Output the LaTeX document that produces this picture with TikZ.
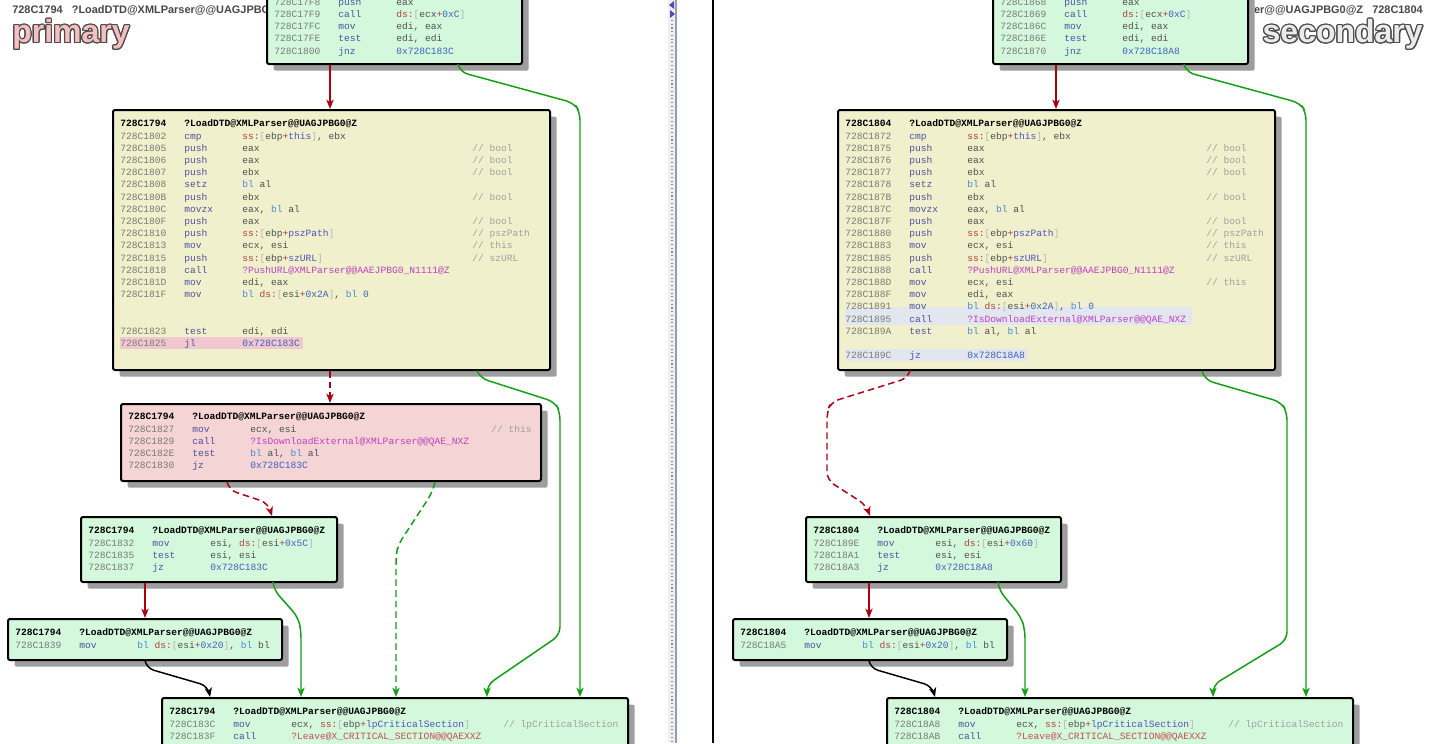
\documentclass[tikz,border=0pt]{standalone}
\usepackage{fontspec}
\usepackage{array}
\usepackage{contour}
\usetikzlibrary{arrows.meta,fit,shadows}
\setmainfont{Liberation Sans}
\newfontfamily\asm{Liberation Mono}
\definecolor{adr}{HTML}{7A7A7A}
\definecolor{mnc}{HTML}{5050A0}
\definecolor{opc}{HTML}{505050}
\definecolor{rgc}{HTML}{4A8AD8}
\definecolor{sgc}{HTML}{B04040}
\definecolor{brc}{HTML}{B8B8B8}
\definecolor{vrc}{HTML}{5050C0}
\definecolor{hxc}{HTML}{4060C0}
\definecolor{fnc}{HTML}{C040C0}
\definecolor{fnr}{HTML}{C05050}
\definecolor{cmc}{HTML}{A0A0A0}
\definecolor{grn}{HTML}{D4F8DC}
\definecolor{yel}{HTML}{F0F0CC}
\definecolor{pnk}{HTML}{F4D4D4}
\definecolor{hlp}{HTML}{F2C8D0}
\definecolor{hlb}{HTML}{E2E6EE}
\definecolor{egr}{HTML}{B00010}
\definecolor{egg}{HTML}{10A010}
% code tokens
\newcommand\rg[1]{\textcolor{rgc}{#1}}
\newcommand\vr[1]{\textcolor{vrc}{#1}}
\newcommand\hx[1]{\textcolor{hxc}{#1}}
\newcommand\fn[1]{\textcolor{fnc}{#1}}
\newcommand\fr[1]{\textcolor{fnr}{#1}}
\newcommand\mem[3]{\textcolor{sgc}{#1:}\textcolor{brc}{[}#2\textcolor{sgc}{+}#3\textcolor{brc}{]}}
\newcommand\hd[2]{\textcolor{black}{\bfseries #1} & \multicolumn{3}{@{}l@{}}{\bfseries #2}}
\newcommand\asmcode[2]{\begin{tabular}{@{}>{\color{adr}}w{l}{48pt}@{}>{\color{mnc}}w{l}{43.5pt}@{}>{\color{opc}}w{l}{#1}@{}>{\color{cmc}}l@{}}#2\end{tabular}}
\contourlength{0.9pt}
\tikzset{
  block/.style={draw=black, line width=1.5pt, rounded corners=1.5pt, inner sep=0pt,
    drop shadow={shadow xshift=5pt, shadow yshift=-5pt, fill=black!38, opacity=1}},
  code/.style={inner sep=0pt, font=\asm\fontsize{7.2}{9.15}\selectfont},
  title/.style={inner sep=0pt, text=black!72, font=\bfseries\fontsize{8.2}{9}\selectfont},
  big/.style={inner sep=0pt, font=\bfseries\fontsize{24}{26}\selectfont},
  ed/.style={line width=1.1pt, rounded corners=6pt, -{Stealth[length=7pt,width=5.5pt,inset=2pt]}},
  tk/.style={ed, egr},
  fl/.style={ed, egg},
  dsh/.style={dash pattern=on 5pt off 3pt}
}
\begin{document}
\begin{tikzpicture}[x=0.75pt, y=-0.75pt]
\useasboundingbox (0,0) rectangle (1435,743);
\fill[white] (0,0) rectangle (1435,743);
% separator
\fill[black!6] (668,0) rectangle (677,743);
\draw[black!45, dotted, line width=0.8pt] (672,20) -- (672,743);
\draw[blue!30!black!40, line width=0.8pt] (676,0) -- (676,743);
\fill[blue!60!black!70] (674,1) -- (669,5) -- (674,9) -- cycle;
\fill[blue!60!black!70] (670,10) -- (675,14) -- (670,18) -- cycle;
\draw[line width=1.6pt] (713,0) -- (713,743);
% titles
\node[title, anchor=west] (tl) at (12,10) {728C1794\ \ \ ?LoadDTD@XMLParser@@UAGJPBG0@Z};
\node[title, anchor=east] (tr) at (1423,10) {?LoadDTD@XMLParser@@UAGJPBG0@Z\ \ \ 728C1804};
\node[big, anchor=west] (np) at (12,35) {\contour{black!70}{\textcolor{pnk!90!red}{primary}}};
\node[big, anchor=east] (ns) at (1423,35) {\contour{black!70}{\textcolor{black!8}{secondary}}};

% primary blocks
\node[block, fill=grn, fit={(267,-20) (522,64)}] (p1) {};
\node[code, anchor=south west] at ([shift={(8,-7)}]p1.south west) {\asmcode{172.5pt}{%
728C17F8 & push & eax & \\
728C17F9 & call & \textcolor{sgc}{ds:}\textcolor{brc}{[}ecx\textcolor{sgc}{+}\hx{0xC}\textcolor{brc}{]} & \\
728C17FC & mov & edi, eax & \\
728C17FE & test & edi, edi & \\
728C1800 & jnz & \hx{0x728C183C} & }};
\node[block, fill=yel, fit={(113,110) (550,370)}] (p2) {};
\fill[hlp] (120,337) rectangle (303,349);
\node[code, anchor=north west] at ([shift={(8,9)}]p2.north west) {\asmcode{172.5pt}{%
\hd{728C1794}{?LoadDTD@XMLParser@@UAGJPBG0@Z}\\
728C1802 & cmp & \mem{ss}{ebp}{\vr{this}}, ebx & \\
728C1805 & push & eax & // bool\\
728C1806 & push & eax & // bool\\
728C1807 & push & ebx & // bool\\
728C1808 & setz & \rg{bl} al & \\
728C180B & push & ebx & // bool\\
728C180C & movzx & eax, \rg{bl} al & \\
728C180F & push & eax & // bool\\
728C1810 & push & \mem{ss}{ebp}{\vr{pszPath}} & // pszPath\\
728C1813 & mov & ecx, esi & // this\\
728C1815 & push & \mem{ss}{ebp}{\vr{szURL}} & // szURL\\
728C1818 & call & \fn{?PushURL@XMLParser@@AAEJPBG0\_N1111@Z} & \\
728C181D & mov & edi, eax & \\
728C181F & mov & \rg{bl} \mem{ds}{esi}{\hx{0x2A}}, \rg{bl} \hx{0} & \\
 & & & \\
 & & & \\
728C1823 & test & edi, edi & \\
728C1825 & jl & \hx{0x728C183C} & }};
\node[block, fill=pnk, fit={(121,404) (541,481)}] (p3) {};
\node[code, anchor=north west] at ([shift={(8,8)}]p3.north west) {\asmcode{180.75pt}{%
\hd{728C1794}{?LoadDTD@XMLParser@@UAGJPBG0@Z}\\
728C1827 & mov & ecx, esi & // this\\
728C1829 & call & \fn{?IsDownloadExternal@XMLParser@@QAE\_NXZ} & \\
728C182E & test & \rg{bl} al, \rg{bl} al & \\
728C1830 & jz & \hx{0x728C183C} & }};
\node[block, fill=grn, fit={(81,517) (337,582)}] (p4) {};
\node[code, anchor=north west] at ([shift={(8,9)}]p4.north west) {\asmcode{172.5pt}{%
\hd{728C1794}{?LoadDTD@XMLParser@@UAGJPBG0@Z}\\
728C1832 & mov & esi, \mem{ds}{esi}{\hx{0x5C}} & \\
728C1835 & test & esi, esi & \\
728C1837 & jz & \hx{0x728C183C} & }};
\node[block, fill=grn, fit={(8,619) (282,660)}] (p5) {};
\node[code, anchor=north west] at ([shift={(8,9)}]p5.north west) {\asmcode{172.5pt}{%
\hd{728C1794}{?LoadDTD@XMLParser@@UAGJPBG0@Z}\\
728C1839 & mov & \rg{bl} \mem{ds}{esi}{\hx{0x20}}, \rg{bl} bl & }};
\node[block, fill=grn, fit={(162,698) (628,780)}] (p6) {};
\node[code, anchor=north west] at ([shift={(8,9)}]p6.north west) {\asmcode{159pt}{%
\hd{728C1794}{?LoadDTD@XMLParser@@UAGJPBG0@Z}\\
728C183C & mov & ecx, \mem{ss}{ebp}{\vr{lpCriticalSection}} & // lpCriticalSection\\
728C183F & call & \fr{?Leave@X\_CRITICAL\_SECTION@@QAEXXZ} & }};

% secondary blocks
\node[block, fill=grn, fit={(993,-20) (1248,64)}] (s1) {};
\node[code, anchor=south west] at ([shift={(8,-7)}]s1.south west) {\asmcode{172.5pt}{%
728C1868 & push & eax & \\
728C1869 & call & \textcolor{sgc}{ds:}\textcolor{brc}{[}ecx\textcolor{sgc}{+}\hx{0xC}\textcolor{brc}{]} & \\
728C186C & mov & edi, eax & \\
728C186E & test & edi, edi & \\
728C1870 & jnz & \hx{0x728C18A8} & }};
\node[block, fill=yel, fit={(838,110) (1275,370)}] (s2) {};
\fill[hlb] (845,307) rectangle (1192,325);
\fill[hlb] (845,349) rectangle (1027,361);
\node[code, anchor=north west] at ([shift={(8,9)}]s2.north west) {\asmcode{179.25pt}{%
\hd{728C1804}{?LoadDTD@XMLParser@@UAGJPBG0@Z}\\
728C1872 & cmp & \mem{ss}{ebp}{\vr{this}}, ebx & \\
728C1875 & push & eax & // bool\\
728C1876 & push & eax & // bool\\
728C1877 & push & ebx & // bool\\
728C1878 & setz & \rg{bl} al & \\
728C187B & push & ebx & // bool\\
728C187C & movzx & eax, \rg{bl} al & \\
728C187F & push & eax & // bool\\
728C1880 & push & \mem{ss}{ebp}{\vr{pszPath}} & // pszPath\\
728C1883 & mov & ecx, esi & // this\\
728C1885 & push & \mem{ss}{ebp}{\vr{szURL}} & // szURL\\
728C1888 & call & \fn{?PushURL@XMLParser@@AAEJPBG0\_N1111@Z} & \\
728C188D & mov & ecx, esi & // this\\
728C188F & mov & edi, eax & \\
728C1891 & mov & \rg{bl} \mem{ds}{esi}{\hx{0x2A}}, \rg{bl} \hx{0} & \\
728C1895 & call & \fn{?IsDownloadExternal@XMLParser@@QAE\_NXZ} & \\
728C189A & test & \rg{bl} al, \rg{bl} al & \\
 & & & \\
728C189C & jz & \hx{0x728C18A8} & }};
\node[block, fill=grn, fit={(806,517) (1061,582)}] (s3) {};
\node[code, anchor=north west] at ([shift={(8,9)}]s3.north west) {\asmcode{172.5pt}{%
\hd{728C1804}{?LoadDTD@XMLParser@@UAGJPBG0@Z}\\
728C189E & mov & esi, \mem{ds}{esi}{\hx{0x60}} & \\
728C18A1 & test & esi, esi & \\
728C18A3 & jz & \hx{0x728C18A8} & }};
\node[block, fill=grn, fit={(733,619) (1007,660)}] (s4) {};
\node[code, anchor=north west] at ([shift={(8,9)}]s4.north west) {\asmcode{172.5pt}{%
\hd{728C1804}{?LoadDTD@XMLParser@@UAGJPBG0@Z}\\
728C18A5 & mov & \rg{bl} \mem{ds}{esi}{\hx{0x20}}, \rg{bl} bl & }};
\node[block, fill=grn, fit={(887,698) (1353,780)}] (s5) {};
\node[code, anchor=north west] at ([shift={(8,9)}]s5.north west) {\asmcode{159pt}{%
\hd{728C1804}{?LoadDTD@XMLParser@@UAGJPBG0@Z}\\
728C18A8 & mov & ecx, \mem{ss}{ebp}{\vr{lpCriticalSection}} & // lpCriticalSection\\
728C18AB & call & \fr{?Leave@X\_CRITICAL\_SECTION@@QAEXXZ} & }};

% primary edges
\draw[tk] (p1.south -| 330,0) -- (p2.north -| 330,0);
\draw[fl] (p1.south -| 458,0) -- (460,72) -- (574,103) -- (580,112) -- (p6.north -| 580,0);
\draw[tk, dsh] (p2.south -| 330,0) -- (p3.north -| 330,0);
\draw[fl] (p2.south -| 477,0) -- (480,378) -- (555,402) -- (560,412) -- (560,635) -- (487,685) -- (p6.north -| 487,0);
\draw[tk, dsh] (p3.south -| 227,0) -- (229,490) -- (268,503) -- (p4.north -| 272,0);
\draw[fl, dsh] (p3.south -| 435,0) -- (432,493) -- (398,545) -- (396,556) -- (p6.north -| 396,0);
\draw[tk] (p4.south -| 145,0) -- (p5.north -| 145,0);
\draw[fl] (p4.south -| 273,0) -- (274,590) -- (298,617) -- (301,630) -- (p6.north -| 301,0);
\draw[ed] (p5.south -| 145,0) -- (146,668) -- (208,686) -- (p6.north -| 210,0);

% secondary edges
\draw[tk] (s1.south -| 1056,0) -- (s2.north -| 1056,0);
\draw[fl] (s1.south -| 1184,0) -- (1186,72) -- (1300,103) -- (1306,112) -- (s5.north -| 1306,0);
\draw[tk, dsh] (s2.south -| 910,0) -- (908,378) -- (831,402) -- (827,412) -- (827,480) -- (866,505) -- (s3.north -| 870,0);
\draw[fl] (s2.south -| 1202,0) -- (1205,380) -- (1281,402) -- (1287,412) -- (1287,640) -- (1213,685) -- (s5.north -| 1213,0);
\draw[tk] (s3.south -| 869,0) -- (s4.north -| 869,0);
\draw[fl] (s3.south -| 998,0) -- (999,590) -- (1021,617) -- (1025,630) -- (s5.north -| 1025,0);
\draw[ed] (s4.south -| 869,0) -- (870,668) -- (932,686) -- (s5.north -| 935,0);
\end{tikzpicture}
\end{document}
